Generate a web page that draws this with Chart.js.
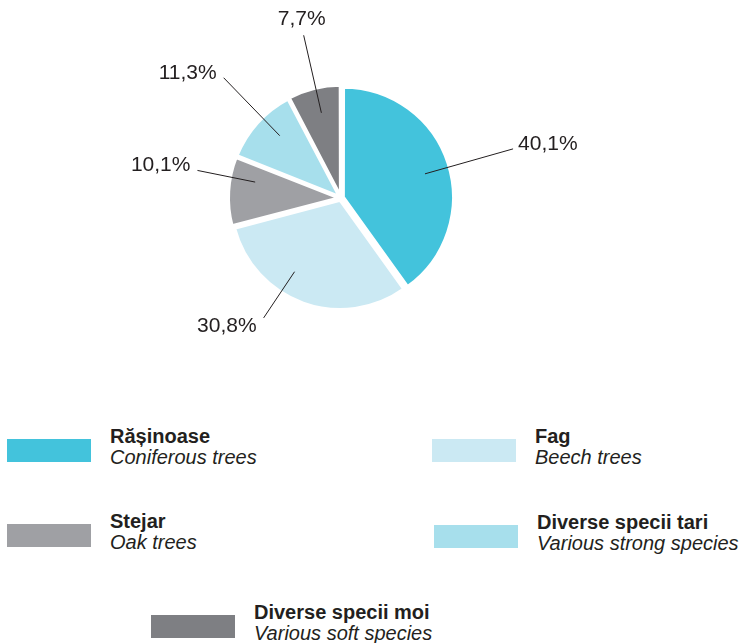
<!DOCTYPE html>
<html>
<head>
<meta charset="utf-8">
<script src="https://cdn.jsdelivr.net/npm/chart.js@4.4.1/dist/chart.umd.min.js"></script>
<style>
  body { margin: 0; background: #fff; width: 743px; height: 643px; overflow: hidden; position: relative; font-family: "Liberation Sans", Arial, sans-serif; color: #231f20; }
  #wrap { position: absolute; left: 0; top: 0; width: 743px; height: 380px; }
  .sw { position: absolute; width: 84px; height: 23px; }
  .txt { position: absolute; font-size: 20px; line-height: 21px; white-space: nowrap; }
  .txt b { display: block; font-weight: bold; }
  .txt i { display: block; font-style: italic; }
</style>
</head>
<body>
<div id="wrap"><canvas id="pieChart"></canvas></div>
<div id="legend"></div>
<script>
var labelsRo = ["Rășinoase", "Fag", "Stejar", "Diverse specii tari", "Diverse specii moi"];
var labelsEn = ["Coniferous trees", "Beech trees", "Oak trees", "Various strong species", "Various soft species"];
var shares = [40.1, 30.8, 10.1, 11.3, 7.7];
var colors = ["#43c3dc", "#cbe9f3", "#9fa0a4", "#a7dfec", "#7e7f83"];

// legend placement (swatch left/top), order matches the arrays
var legendPos = [[7, 439], [432, 439], [7, 524], [434, 525], [151, 615]];
// leader line tweaks: turn (degrees) and length (x radius) per slice
var leaderTurn = [2, 14, 8, 4, 1];
var leaderLen = [1.55, 1.22, 1.25, 1.45, 1.44];

// percentage labels with leader lines
var leaderLines = {
  id: "leaderLines",
  afterDatasetsDraw: function(chart) {
    var ctx = chart.ctx;
    var meta = chart.getDatasetMeta(0);
    ctx.save();
    ctx.strokeStyle = "#231f20";
    ctx.lineWidth = 1;
    ctx.fillStyle = "#231f20";
    ctx.font = "21px 'Liberation Sans', Arial, sans-serif";
    meta.data.forEach(function(arc, i) {
      var p = arc.getProps(["x", "y", "startAngle", "endAngle", "outerRadius"], true);
      var off = arc.options.offset || 0;
      var mid = (p.startAngle + p.endAngle) / 2;
      var cx = p.x + Math.cos(mid) * off, cy = p.y + Math.sin(mid) * off;
      var a = mid + leaderTurn[i] * Math.PI / 180;
      var R = p.outerRadius;
      var c = Math.cos(a), s = Math.sin(a);
      var x1 = cx + c * R * 0.71, y1 = cy + s * R * 0.71;
      var x2 = cx + c * R * leaderLen[i], y2 = cy + s * R * leaderLen[i];
      ctx.beginPath();
      ctx.moveTo(x1, y1);
      ctx.lineTo(x2, y2);
      ctx.stroke();
      var txt = shares[i].toFixed(1).replace(".", ",") + "%";
      if (Math.abs(c) < 0.35 && s < 0) {
        ctx.textAlign = "center";
        ctx.textBaseline = "bottom";
        ctx.fillText(txt, x2 - 2, y2 - 6);
      } else {
        ctx.textAlign = c > 0 ? "left" : "right";
        ctx.textBaseline = "middle";
        ctx.fillText(txt, x2 + (c > 0 ? 5 : -7), y2 + (s > 0 ? 8 : -5));
      }
    });
    ctx.restore();
  }
};

new Chart("pieChart", {
  type: "pie",
  data: {
    labels: labelsRo,
    datasets: [{
      data: shares,
      backgroundColor: colors,
      borderColor: "#ffffff",
      borderWidth: 3,
      offset: 10
    }]
  },
  options: {
    responsive: true,
    maintainAspectRatio: false,
    animation: false,
    radius: 109,
    layout: { padding: { left: 0, right: 61, top: 16, bottom: 0 } },
    plugins: {
      legend: { display: false },
      tooltip: { enabled: false }
    }
  },
  plugins: [leaderLines]
});

// legend built from the arrays
var lg = document.getElementById("legend");
labelsRo.forEach(function(name, i) {
  var sw = document.createElement("div");
  sw.className = "sw";
  sw.style.left = legendPos[i][0] + "px";
  sw.style.top = legendPos[i][1] + "px";
  sw.style.background = colors[i];
  lg.appendChild(sw);
  var t = document.createElement("div");
  t.className = "txt";
  t.style.left = (legendPos[i][0] + 103) + "px";
  t.style.top = (legendPos[i][1] - 13) + "px";
  t.innerHTML = "<b>" + name + "</b><i>" + labelsEn[i] + "</i>";
  lg.appendChild(t);
});
</script>
</body>
</html>
